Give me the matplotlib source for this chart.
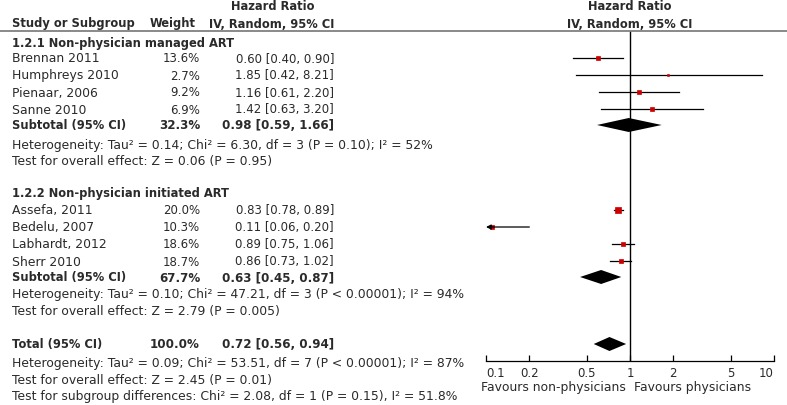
import matplotlib
matplotlib.use("Agg")
import matplotlib.pyplot as plt
from matplotlib.patches import Polygon
from matplotlib.lines import Line2D
import numpy as np

plt.rcParams['font.family'] = ['DejaVu Sans']

# ---------------- data ----------------
g1_title = "1.2.1 Non-physician managed ART"
g1_studies = ["Brennan 2011", "Humphreys 2010", "Pienaar, 2006", "Sanne 2010"]
g1_weights = [13.6, 2.7, 9.2, 6.9]
g1_hr = [0.60, 1.85, 1.16, 1.42]
g1_lo = [0.40, 0.42, 0.61, 0.63]
g1_hi = [0.90, 8.21, 2.20, 3.20]
g1_sub = (32.3, 0.98, 0.59, 1.66)
g1_het = "Heterogeneity: Tau² = 0.14; Chi² = 6.30, df = 3 (P = 0.10); I² = 52%"
g1_test = "Test for overall effect: Z = 0.06 (P = 0.95)"

g2_title = "1.2.2 Non-physician initiated ART"
g2_studies = ["Assefa, 2011", "Bedelu, 2007", "Labhardt, 2012", "Sherr 2010"]
g2_weights = [20.0, 10.3, 18.6, 18.7]
g2_hr = [0.83, 0.11, 0.89, 0.86]
g2_lo = [0.78, 0.06, 0.75, 0.73]
g2_hi = [0.89, 0.20, 1.06, 1.02]
g2_sub = (67.7, 0.63, 0.45, 0.87)
g2_het = "Heterogeneity: Tau² = 0.10; Chi² = 47.21, df = 3 (P < 0.00001); I² = 94%"
g2_test = "Test for overall effect: Z = 2.79 (P = 0.005)"

total = (100.0, 0.72, 0.56, 0.94)
total_het = "Heterogeneity: Tau² = 0.09; Chi² = 53.51, df = 7 (P < 0.00001); I² = 87%"
total_test = "Test for overall effect: Z = 2.45 (P = 0.01)"
subgroup_test = "Test for subgroup differences: Chi² = 2.08, df = 1 (P = 0.15), I² = 51.8%"

tick_vals = [0.1, 0.2, 0.5, 1, 2, 5, 10]
tick_labels = ["0.1", "0.2", "0.5", "1", "2", "5", "10"]
favours_left = "Favours non-physicians"
favours_right = "Favours physicians"

# ---------------- layout (pixels) ----------------
W, H = 787, 406
fig = plt.figure(figsize=(W / 100, H / 100), dpi=100)
fig.patch.set_facecolor("white")

FS_TXT = 8.95
FS_NUM = 8.5
FS_BOLD = 8.3
TC = "#2a2a2a"
RED = "#cc0000"

def fx(px):
    return px / W

def fy(py):
    return 1 - py / H

def txt(px, py, s, ha="left", bold=False, size=None):
    if size is None:
        size = FS_BOLD if bold else FS_TXT
    fig.text(fx(px), fy(py), s, ha=ha, va="center", fontsize=size,
             fontweight="bold" if bold else "normal", color=TC)

X_STUDY = 12
X_WEIGHT = 200
X_HR = 334
X_HRC = 273

# header
txt(X_HRC, 7, "Hazard Ratio", ha="center", bold=True)
txt(X_STUDY, 24, "Study or Subgroup", bold=True)
txt(X_WEIGHT - 4, 24, "Weight", ha="right", bold=True)
txt(X_HR, 24, "IV, Random, 95% CI", ha="right", bold=True)
txt(630, 7, "Hazard Ratio", ha="center", bold=True)
txt(630, 24, "IV, Random, 95% CI", ha="center", bold=True)
fig.add_artist(Line2D([0, 1], [fy(32), fy(32)], transform=fig.transFigure,
                      color="#808080", lw=1.3))

# forest axes
AX_TOP, AX_BOT = 32, 362
ax = fig.add_axes([fx(486), fy(AX_BOT), fx(774 - 486), (AX_BOT - AX_TOP) / H])
ax.set_xscale("log")
ax.set_xlim(0.1, 10)
ax.set_ylim(AX_BOT, AX_TOP)
for s in ["top", "left", "right"]:
    ax.spines[s].set_visible(False)
ax.spines["bottom"].set_linewidth(0.9)
ax.set_yticks([])
ax.set_xticks(tick_vals)
ax.set_xticklabels(tick_labels)
ax.minorticks_off()
ax.tick_params(axis="x", direction="in", length=4, width=0.9, labelsize=FS_NUM,
               labelcolor=TC, pad=3.5)
lbls = ax.get_xticklabels()
lbls[0].set_horizontalalignment("left")
lbls[-1].set_horizontalalignment("right")
ax.axvline(1, color="black", lw=1.0)
ax.patch.set_alpha(0)

def fmt_ci(hr, lo, hi):
    return f"{hr:.2f} [{lo:.2f}, {hi:.2f}]"

def draw_study(y, name, w, hr, lo, hi):
    txt(X_STUDY, y, name)
    txt(X_WEIGHT, y, f"{w:.1f}%", ha="right", size=FS_NUM)
    txt(X_HR, y, fmt_ci(hr, lo, hi), ha="right", size=FS_NUM)
    xmin, xmax = ax.get_xlim()
    if lo < xmin:
        ax.annotate("", xy=(xmin, y), xytext=(hi, y),
                    arrowprops=dict(arrowstyle="-|>", color="black", lw=0.9,
                                    mutation_scale=7, shrinkA=0, shrinkB=0))
    else:
        ax.plot([lo, min(hi, xmax)], [y, y], color="black", lw=0.9)
    side_px = 1.15 * np.sqrt(w)
    ax.plot([hr], [y], marker="s", ms=side_px * 0.72, color=RED, mec=RED, mew=0.5)

def draw_diamond(y, lab, vals):
    w, hr, lo, hi = vals
    txt(X_STUDY, y, lab, bold=True)
    txt(X_WEIGHT, y, f"{w:.1f}%", ha="right", bold=True, size=8.6)
    txt(X_HR, y, fmt_ci(hr, lo, hi), ha="right", bold=True, size=8.6)
    h = 7
    ax.add_patch(Polygon([(lo, y), (hr, y - h), (hi, y), (hr, y + h)],
                         closed=True, color="black", lw=0))

# group 1
txt(X_STUDY, 43, g1_title, bold=True)
for y, n, w, hr, lo, hi in zip([59, 76, 93, 110], g1_studies, g1_weights, g1_hr, g1_lo, g1_hi):
    draw_study(y, n, w, hr, lo, hi)
draw_diamond(126, "Subtotal (95% CI)", g1_sub)
txt(X_STUDY, 145, g1_het)
txt(X_STUDY, 162, g1_test)

# group 2
txt(X_STUDY, 194, g2_title, bold=True)
for y, n, w, hr, lo, hi in zip([211, 228, 245, 262], g2_studies, g2_weights, g2_hr, g2_lo, g2_hi):
    draw_study(y, n, w, hr, lo, hi)
draw_diamond(278, "Subtotal (95% CI)", g2_sub)
txt(X_STUDY, 295, g2_het)
txt(X_STUDY, 312, g2_test)

# total
draw_diamond(345, "Total (95% CI)", total)
txt(X_STUDY, 364, total_het)
txt(X_STUDY, 381, total_test)
txt(X_STUDY, 397, subgroup_test)

# favours labels
txt(626, 388, favours_left, ha="right")
txt(634, 388, favours_right, ha="left")

fig.savefig("out.png", dpi=100, facecolor="white")
